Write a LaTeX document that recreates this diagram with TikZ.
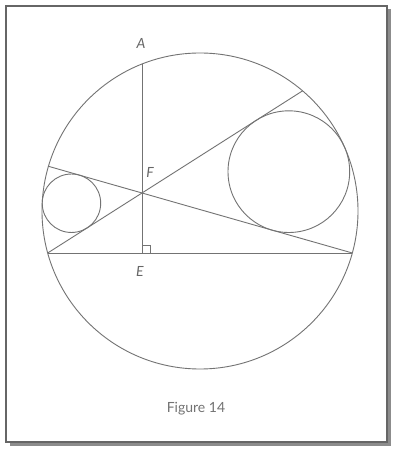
\documentclass[tikz,border=0pt]{standalone}
\usepackage{fontspec}
\setmainfont{Lato}
\begin{document}
\begin{tikzpicture}[x=1pt,y=1pt,
  geo/.style={draw=black!55, line width=0.9pt},
  lbl/.style={text=black!60, font=\fontsize{14}{14}\selectfont\itshape, inner sep=0pt},
  captiontext/.style={text=black!55, font=\fontsize{14}{14}\selectfont, inner sep=0pt}]
\useasboundingbox (0,0) rectangle (392,449);
% frame with shadow
\fill[black!45] (10,3) rectangle (391,440);
\fill[white] (6,7) rectangle (387,443);
\draw[black!60, line width=1.8pt] (6,7) rectangle (387,443);
% points
\coordinate (O) at (200,238);
\coordinate (P1) at (47.7,196);
\coordinate (P2) at (352.3,196);
\coordinate (E) at (142,196);
\coordinate (A) at (142,385);
\coordinate (F) at (142,256);
\coordinate (Q) at (302.57,358.16);
\coordinate (S) at (48.46,282.69);
\coordinate (C1) at (71.46,245.75);
\coordinate (C2) at (288.84,277.34);
% circles
\draw[geo] (O) circle (158);
\draw[geo] (C1) circle (29.23);
\draw[geo] (C2) circle (60.84);
% lines
\draw[geo] (P1) -- (P2);
\draw[geo] (A) -- (E);
\draw[geo] (P1) -- (Q);
\draw[geo] (S) -- (P2);
\draw[draw=black!55, line width=0.8pt] (142,204) -- (150,204) -- (150,196);
% labels
\node[lbl] (lA) at (141,406) {A};
\node[lbl] (lF) at (150,277) {F};
\node[lbl] (lE) at (140,178) {E};
\node[captiontext] (fig) at (196,40) {Figure 14};
\end{tikzpicture}
\end{document}
